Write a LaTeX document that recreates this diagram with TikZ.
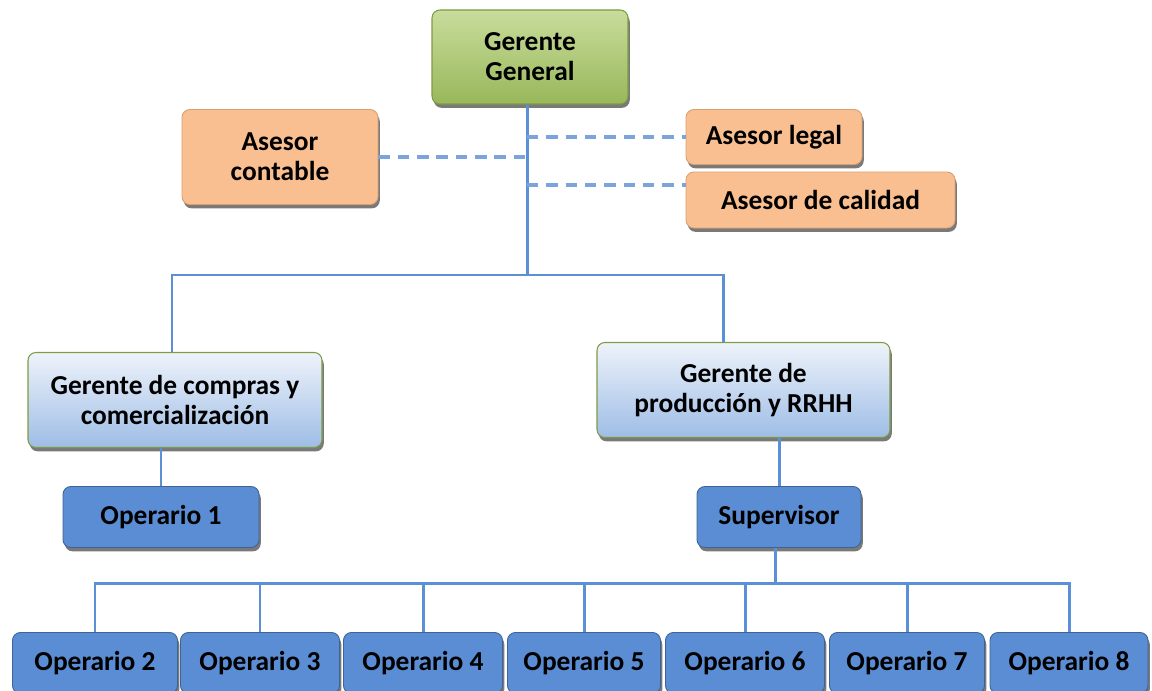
\documentclass[tikz,border=0pt]{standalone}
\usepackage{fontspec}
\setmainfont{Carlito}
\usetikzlibrary{shadows}

\definecolor{linkblue}{HTML}{5B8FD6}
\definecolor{dashblue}{HTML}{7BA3DC}
\definecolor{ggtop}{HTML}{C9DC9C}
\definecolor{ggbot}{HTML}{98B85A}
\definecolor{ggline}{HTML}{7E9C44}
\definecolor{asfill}{HTML}{F9BF90}
\definecolor{asline}{HTML}{D9A070}
\definecolor{mgtop}{HTML}{EEF3FA}
\definecolor{mgbot}{HTML}{9EBDE6}
\definecolor{opfill}{HTML}{5A8DD4}
\definecolor{opline}{HTML}{3F6494}

\begin{document}
\begin{tikzpicture}[font=\fontsize{15.6}{17.2}\selectfont\bfseries,
  box/.style={rounded corners=4.5pt, align=center, inner sep=2pt,
    drop shadow={shadow xshift=1pt, shadow yshift=-2.2pt, fill=black!70, opacity=.75}},
  general/.style={box, draw=ggline, top color=ggtop, bottom color=ggbot, line width=.6pt},
  asesor/.style={box, draw=asline, fill=asfill, line width=.5pt},
  gerente/.style={box, draw=ggline, top color=mgtop, bottom color=mgbot, line width=.6pt},
  operario/.style={box, draw=opline, fill=opfill, line width=.5pt},
  link/.style={draw=linkblue, line width=1.7pt},
  staff/.style={draw=dashblue, line width=2pt, dash pattern=on 6.5pt off 4.5pt}]
\useasboundingbox (0,0) rectangle (23.04,-13.8);

\node[general, minimum width=3.92cm, minimum height=1.88cm] (gg) at (10.6,-1.14) {Gerente\\General};

\node[asesor, minimum width=3.92cm, minimum height=1.9cm]  (contable) at (5.6,-3.14)  {Asesor\\contable};
\node[asesor, minimum width=3.52cm, minimum height=1.1cm]  (legal)    at (15.48,-2.74) {Asesor legal};
\node[asesor, minimum width=5.38cm, minimum height=1.12cm] (calidad)  at (16.41,-4.0)  {Asesor de calidad};

\node[gerente, minimum width=5.88cm, minimum height=1.9cm] (compras)    at (3.5,-8.0)   {Gerente de compras y\\comercialización};
\node[gerente, minimum width=5.86cm, minimum height=1.9cm] (produccion) at (14.87,-7.8) {Gerente de\\producción y RRHH};

\node[operario, minimum width=3.92cm, minimum height=1.22cm] (op1) at (3.22,-10.34)  {Operario 1};
\node[operario, minimum width=3.28cm, minimum height=1.22cm] (sup) at (15.58,-10.34) {Supervisor};

\node[operario, minimum width=3.3cm,  minimum height=1.22cm] (op2) at (1.9,-13.26)   {Operario 2};
\node[operario, minimum width=3.18cm, minimum height=1.22cm] (op3) at (5.2,-13.26)   {Operario 3};
\node[operario, minimum width=3.18cm, minimum height=1.22cm] (op4) at (8.46,-13.26)  {Operario 4};
\node[operario, minimum width=3.06cm, minimum height=1.22cm] (op5) at (11.68,-13.26) {Operario 5};
\node[operario, minimum width=3.18cm, minimum height=1.22cm] (op6) at (14.9,-13.26)  {Operario 6};
\node[operario, minimum width=3.1cm,  minimum height=1.22cm] (op7) at (18.14,-13.26) {Operario 7};
\node[operario, minimum width=3.16cm, minimum height=1.22cm] (op8) at (21.38,-13.26) {Operario 8};

% main line and the two branches
\coordinate (split) at (10.54,-5.5);
\draw[link] (gg.south -| split) -- (split);
\draw[link] (compras.north -| 3.44,0) |- (split) -| ([xshift=-0.4cm]produccion.north);

% staff advisors
\draw[staff] (contable.east) -- (contable.east -| split);
\draw[staff] (legal.west -| split) -- (legal.west);
\draw[staff] ([yshift=8.5pt]calidad.west -| split) -- ([yshift=8.5pt]calidad.west);

\draw[link] (op1.north) -- (op1.north |- compras.south);
\draw[link] (sup.north) -- (sup.north |- produccion.south);

% operators bus
\coordinate (bus) at (15.5,-11.66);
\draw[link] (sup.south -| bus) -- (bus);
\draw[link] (op2.north) |- (bus) -| (op8.north);
\draw[link] (op3.north) -- (op3.north |- bus);
\draw[link] (op4.north) -- (op4.north |- bus);
\draw[link] (op5.north) -- (op5.north |- bus);
\draw[link] (op6.north) -- (op6.north |- bus);
\draw[link] (op7.north) -- (op7.north |- bus);
\end{tikzpicture}
\end{document}
